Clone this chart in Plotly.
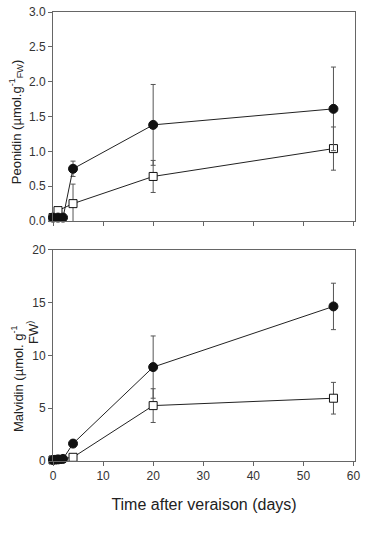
import plotly.graph_objects as go
from plotly.subplots import make_subplots

# Peonidin (top)
peo_days_f = [0, 1, 2, 4, 20, 56]
peo_f = [0.05, 0.05, 0.05, 0.75, 1.38, 1.61]
peo_f_err = [0.02, 0.02, 0.02, 0.11, 0.58, 0.60]
peo_days_o = [0, 1, 4, 20, 56]
peo_o = [0.05, 0.15, 0.25, 0.64, 1.04]
peo_o_err = [0.02, 0.03, 0.28, 0.23, 0.31]

# Malvidin (bottom)
mal_days_f = [0, 1, 2, 4, 20, 56]
mal_f = [0.1, 0.15, 0.2, 1.65, 8.9, 14.65]
mal_f_err = [0.05, 0.05, 0.05, 0.25, 2.95, 2.2]
mal_days_o = [0, 1, 4, 20, 56]
mal_o = [0.1, 0.15, 0.35, 5.25, 5.95]
mal_o_err = [0.05, 0.05, 0.05, 1.6, 1.5]

x_ticks = [0, 10, 20, 30, 40, 50, 60]

fig = make_subplots(rows=2, cols=1, vertical_spacing=0.0)

def add(days, vals, errs, filled, row):
    fig.add_trace(go.Scatter(
        x=days, y=vals, mode="lines+markers",
        line=dict(color="#222222", width=1),
        marker=dict(symbol="circle" if filled else "square",
                    size=9 if filled else 8,
                    color="#111111" if filled else "white",
                    line=dict(color="#111111", width=1)),
        error_y=dict(type="data", array=errs, color="#555555", thickness=1, width=2.5),
        cliponaxis=False, showlegend=False), row=row, col=1)

add(peo_days_o, peo_o, peo_o_err, False, 1)
add(peo_days_f, peo_f, peo_f_err, True, 1)
add(mal_days_o, mal_o, mal_o_err, False, 2)
add(mal_days_f, mal_f, mal_f_err, True, 2)

FONT = "Liberation Sans, Arial"
axis_common = dict(showline=True, linecolor="#666666", linewidth=1, mirror=True,
                   ticks="outside", ticklen=4, tickcolor="#666666", showgrid=False,
                   zeroline=False, tickfont=dict(family=FONT, size=12, color="#333333"))

fig.update_layout(
    width=365, height=537,
    margin=dict(l=53, r=5, t=10, b=76),
    paper_bgcolor="white", plot_bgcolor="white",
    xaxis=dict(domain=[0, 1], range=[0, 60.3], tickvals=x_ticks, showticklabels=False, **axis_common),
    yaxis=dict(domain=[0.5344, 1], range=[0, 3], dtick=0.5, tickformat=".1f", **axis_common),
    xaxis2=dict(domain=[0, 1], range=[0, 60.3], tickvals=x_ticks, **axis_common,
                title=dict(text="Time after veraison (days)", standoff=16,
                           font=dict(family=FONT, size=16, color="#222222"))),
    yaxis2=dict(domain=[0, 0.470], range=[0, 20], dtick=5, **axis_common),
)

fig.add_annotation(text="Peonidin (µmol.g<sup>-1</sup><sub>FW</sub>)", textangle=-90,
                   xref="paper", yref="paper", x=(15 - 53) / 307, y=(461 - 121) / 451,
                   xanchor="center", yanchor="middle", showarrow=False,
                   font=dict(family=FONT, size=13, color="#222222"))
fig.add_annotation(text="Malvidin (µmol. g<sup>-1</sup>", textangle=-90,
                   xref="paper", yref="paper", x=(17 - 53) / 307, y=(461 - 378) / 451,
                   xanchor="center", yanchor="middle", showarrow=False,
                   font=dict(family=FONT, size=13, color="#222222"))
fig.add_annotation(text="FW<sup>)</sup>", textangle=-90,
                   xref="paper", yref="paper", x=(32 - 53) / 307, y=(461 - 332) / 451,
                   xanchor="center", yanchor="middle", showarrow=False,
                   font=dict(family=FONT, size=13, color="#222222"))

fig.write_html("out.html")
